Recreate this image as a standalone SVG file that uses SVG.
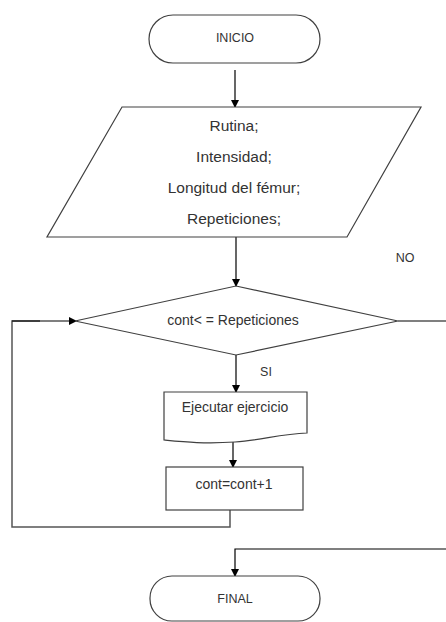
<svg xmlns="http://www.w3.org/2000/svg" width="446" height="622" viewBox="0 0 446 622">
<defs>
<marker id="ah" markerWidth="10" markerHeight="10" refX="8" refY="5" orient="auto" markerUnits="userSpaceOnUse">
<path d="M1,1 L9,5 L1,9 Z" fill="#000"/>
</marker>
<style>
.shape{fill:#fff;stroke:#404040;stroke-width:1.2}
.t{font-family:"Liberation Sans",Arial,sans-serif;fill:#333;text-anchor:middle;dominant-baseline:central}
.c{fill:none;stroke:#000;stroke-width:1.2}
.g{fill:none;stroke:#555;stroke-width:1.5}
</style>
</defs>
<rect width="446" height="622" fill="#fff"/>
<g id="connectors">
<line class="c" x1="235" y1="70" x2="235" y2="107" marker-end="url(#ah)"/>
<line class="c" x1="236" y1="237" x2="236" y2="286" marker-end="url(#ah)"/>
<line class="c" x1="236" y1="355" x2="236" y2="392" marker-end="url(#ah)"/>
<line class="c" x1="233" y1="440" x2="233" y2="467" marker-end="url(#ah)"/>
<polyline class="g" points="230,510 230,527 12,527 12,321 40,321"/>
<line class="c" x1="12" y1="321" x2="76" y2="321" marker-end="url(#ah)"/>
<line class="c" x1="398" y1="321" x2="446" y2="321"/>
<polyline class="c" points="446,549 235,549 235,576" marker-end="url(#ah)"/>
<text class="t" x="405" y="258" font-size="12.5">NO</text>
<text class="t" x="266" y="372" font-size="12.5">SI</text>
</g>
<g id="inicio">
<rect class="shape" x="149" y="15" width="171" height="48" rx="24"/>
<text class="t" x="235" y="38" font-size="12.5">INICIO</text>
</g>
<g id="entrada">
<polygon class="shape" points="122,107 421,107 347,237 47,237"/>
<text class="t" x="234" y="125" font-size="15.5">Rutina;</text>
<text class="t" x="234" y="156" font-size="15.5">Intensidad;</text>
<text class="t" x="234" y="187" font-size="15.5">Longitud del fémur;</text>
<text class="t" x="234" y="218" font-size="15.5">Repeticiones;</text>
</g>
<g id="decision">
<polygon class="shape" points="236,286 398,321 236,355 75,321"/>
<text class="t" x="233" y="320" font-size="14">cont&lt; = Repeticiones</text>
</g>
<g id="ejecutar">
<path class="shape" d="M164,392 H307 V433 C280,434 262,440 235,442 C205,444 185,442 164,440 Z"/>
<text class="t" x="235" y="407" font-size="14">Ejecutar ejercicio</text>
</g>
<g id="incremento">
<rect class="shape" x="166" y="467" width="137" height="43"/>
<text class="t" x="234" y="484" font-size="14">cont=cont+1</text>
</g>
<g id="final">
<rect class="shape" x="150" y="576" width="170" height="45" rx="22"/>
<text class="t" x="235" y="599" font-size="12.5">FINAL</text>
</g>
</svg>
